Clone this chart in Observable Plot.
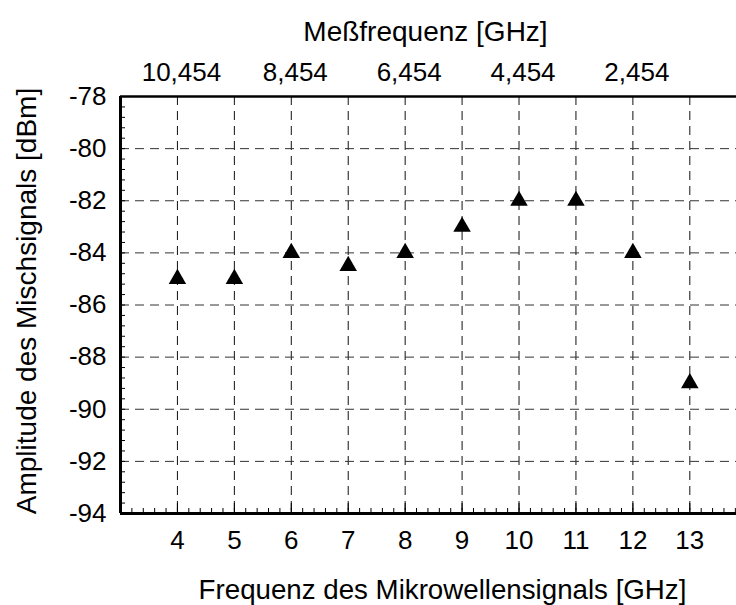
<!DOCTYPE html>
<html>
<head>
<meta charset="utf-8">
<script src="https://cdn.jsdelivr.net/npm/d3@7"></script>
<script src="https://cdn.jsdelivr.net/npm/@observablehq/plot@0.6"></script>
<style>
  html, body { margin: 0; padding: 0; background: #fff; overflow: hidden; }
  #chart svg { display: block; }
</style>
</head>
<body>
<div id="chart"></div>
<script>
// Data
const mikrowellenFreq = [4, 5, 6, 7, 8, 9, 10, 11, 12, 13];          // GHz
const amplitude = [-85, -85, -84, -84.5, -84, -83, -82, -82, -84, -89]; // dBm

// Axis ticks and labels
const xDomain = [3, 13.82];
const yDomain = [-94, -78];
const xMajorTicks = [4, 5, 6, 7, 8, 9, 10, 11, 12, 13];
const yTickValues = [-94, -92, -90, -88, -86, -84, -82, -80, -78];
const yTickLabels = ["-94", "-92", "-90", "-88", "-86", "-84", "-82", "-80", "-78"];
const yGridValues = [-92, -90, -88, -86, -84, -82, -80];
const topTickPositions = [4, 6, 8, 10, 12];
const topTickLabels = ["10,454", "8,454", "6,454", "4,454", "2,454"];
const xMinorTicks = d3.range(3, 13.81, 0.2);
const yMinorTicks = d3.range(-94, -77.99, 0.4);

const titleTop = "Meßfrequenz [GHz]";
const titleBottom = "Frequenz des Mikrowellensignals [GHz]";
const titleLeft = "Amplitude des Mischsignals [dBm]";

const data = mikrowellenFreq.map((f, i) => ({f, a: amplitude[i]}));

const frameH = 605 - 96 - 92;
const frameW = 736 - 120;

const chart = Plot.plot({
  width: 736,
  height: 605,
  marginLeft: 120,
  marginRight: 0,
  marginTop: 96,
  marginBottom: 92,
  style: {fontFamily: "'Liberation Sans', Arial, sans-serif", fontSize: "26px", background: "#fff", color: "#000"},
  x: {domain: xDomain},
  y: {domain: yDomain},
  marks: [
    // dashed grid
    Plot.gridX(xMajorTicks, {stroke: "#111", strokeOpacity: 1, strokeWidth: 1, strokeDasharray: "9,6"}),
    Plot.gridY(yGridValues, {stroke: "#333", strokeOpacity: 1, strokeWidth: 1, strokeDasharray: "9,6"}),
    // inward minor ticks
    Plot.gridX(xMinorTicks, {stroke: "#000", strokeOpacity: 1, strokeWidth: 1, insetTop: frameH - 5}),
    Plot.gridX(xMajorTicks, {stroke: "#000", strokeOpacity: 1, strokeWidth: 1, insetTop: frameH - 10}),
    Plot.gridY(yMinorTicks, {stroke: "#000", strokeOpacity: 1, strokeWidth: 1, insetRight: frameW - 5}),
    // frame (left, top, bottom)
    Plot.ruleX([xDomain[0]], {stroke: "#000", strokeWidth: 3}),
    Plot.ruleY([yDomain[0]], {stroke: "#000", strokeWidth: 3}),
    Plot.ruleY([yDomain[1]], {stroke: "#000", strokeWidth: 2.5}),
    // axes
    Plot.axisX(xMajorTicks, {anchor: "bottom", tickSize: 0, tickPadding: 17, label: null, fontSize: 26}),
    Plot.axisX(topTickPositions, {anchor: "top", tickSize: 0, tickPadding: 16, label: null, fontSize: 26, dx: 4,
      tickFormat: d => topTickLabels[topTickPositions.indexOf(d)]}),
    Plot.axisY(yTickValues, {anchor: "left", tickSize: 0, tickPadding: 14, label: null, fontSize: 26,
      tickFormat: d => yTickLabels[yTickValues.indexOf(d)]}),
    // titles
    Plot.text([titleTop], {frameAnchor: "top", text: d => d, textAnchor: "middle", lineAnchor: "bottom", dy: -56, dx: -3, fontSize: 28}),
    Plot.text([titleBottom], {frameAnchor: "bottom", text: d => d, textAnchor: "middle", lineAnchor: "bottom", dy: 85, dx: 14, fontSize: 27.7}),
    Plot.text([titleLeft], {frameAnchor: "left", text: d => d, textAnchor: "middle", rotate: -90, lineAnchor: "middle", dx: -93, dy: -4, fontSize: 28}),
    // data
    Plot.dot(data, {x: "f", y: "a", symbol: "triangle", r: 6.5, fill: "#000", stroke: "none"})
  ]
});
document.getElementById("chart").append(chart);
</script>
</body>
</html>
